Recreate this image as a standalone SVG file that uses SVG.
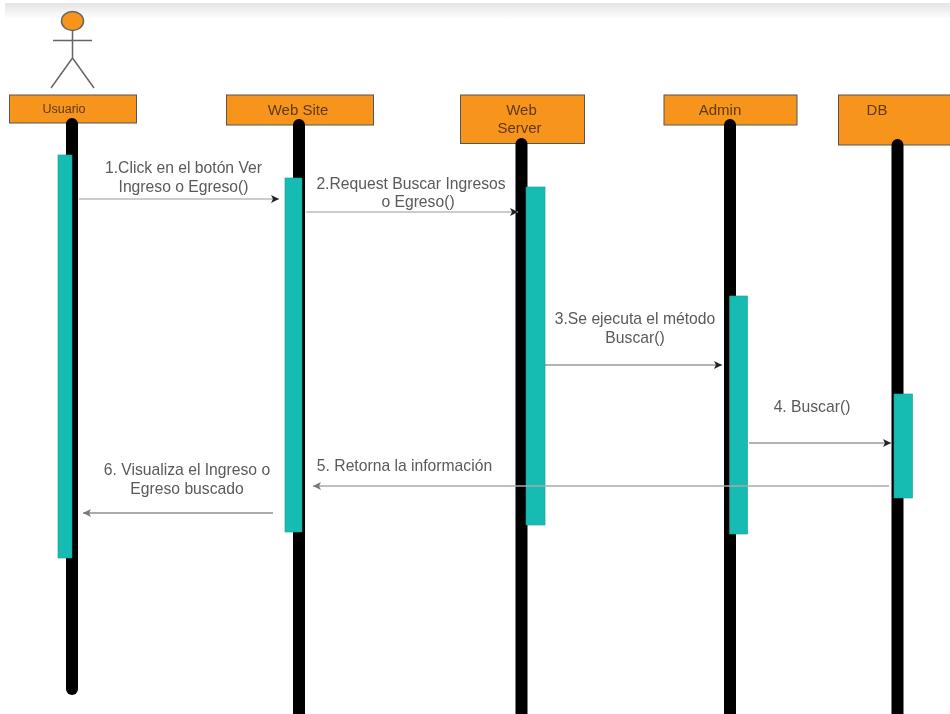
<svg xmlns="http://www.w3.org/2000/svg" width="950" height="714" viewBox="0 0 950 714">
<style>
.h{fill:#f7941d;stroke:#555;stroke-width:1}
.l{stroke:#000;stroke-width:12;stroke-linecap:round;fill:none}
.b{fill:#14bcb2;stroke:#0f9f96;stroke-width:.6}
text{font-family:"Liberation Sans",Arial,sans-serif;font-size:15.7px;fill:#5a5a5a;text-anchor:middle}
text.n{fill:#5e3a10;font-size:15px}
text.u{font-size:12.500px}
.m{stroke:#666;stroke-width:1;fill:none}
.p{stroke:#bbb;stroke-width:1.400;fill:none}
.g{stroke:#8e8e8e;stroke-width:1.500;fill:none}
.f{stroke:#aaa;stroke-width:1.500;fill:none}
</style>
<defs>
<filter id="soft" x="0" y="0" width="100%" height="100%"><feGaussianBlur stdDeviation="0.5"/></filter>
<linearGradient id="top" x1="0" y1="0" x2="0" y2="1"><stop offset="0" stop-color="#e4e4e4"/><stop offset="1" stop-color="#fff"/></linearGradient>
<marker id="a" markerWidth="10" markerHeight="8" refX="8" refY="4" orient="auto" markerUnits="userSpaceOnUse"><path d="M0 0L8 4L0 8L2 4Z" fill="#222"/></marker>
<marker id="r" markerWidth="10" markerHeight="8" refX="8" refY="4" orient="auto" markerUnits="userSpaceOnUse"><path d="M0 0L8 4L0 8L2 4Z" fill="#777"/></marker>
</defs>
<rect width="950" height="714" fill="#fff"/>
<g filter="url(#soft)">
<rect x="5" y="3" width="945" height="16" fill="url(#top)"/>
<g id="actor" stroke="#666" stroke-width="1.500" fill="none">
<ellipse cx="72.500" cy="21" rx="11" ry="9.500" fill="#f7941d"/>
<path d="M72.500 31V58M53 40.500H92M72.500 58L51 88M72.500 58L94 88"/>
</g>
<g id="usuario"><rect class="h" x="9.500" y="95" width="127" height="28"/><text class="n u" x="64" y="113">Usuario</text><line class="l" x1="72" y1="124" x2="72" y2="689"/><rect class="b" x="58" y="155" width="14" height="403"/></g>
<g id="website"><rect class="h" x="226.500" y="95" width="147" height="30"/><text class="n" x="298" y="115">Web Site</text><line class="l" x1="299" y1="125" x2="299" y2="720"/><rect class="b" x="285" y="178" width="17" height="354"/></g>
<g id="webserver"><rect class="h" x="460.500" y="95" width="124" height="48.500"/><text class="n" x="521.500" y="115">Web</text><text class="n" x="519.500" y="133">Server</text><line class="l" x1="521.500" y1="144" x2="521.500" y2="720"/><rect class="b" x="526" y="187" width="19" height="338"/></g>
<g id="admin"><rect class="h" x="664" y="95" width="133" height="30"/><text class="n" x="720" y="115">Admin</text><line class="l" x1="730" y1="125" x2="730" y2="720"/><rect class="b" x="729.500" y="296" width="18" height="238"/></g>
<g id="db"><rect class="h" x="838.500" y="95" width="115" height="50"/><text class="n" x="877" y="115">DB</text><line class="l" x1="897.500" y1="145" x2="897.500" y2="720"/><rect class="b" x="894" y="394" width="18.500" height="104"/></g>
<g id="connectors">
<line class="p" x1="79" y1="199" x2="279" y2="199" marker-end="url(#a)"/>
<line class="p" x1="306" y1="212" x2="518" y2="212" marker-end="url(#a)"/>
<line class="m" x1="545" y1="365" x2="722" y2="365" marker-end="url(#a)"/>
<line class="m" x1="749" y1="443" x2="891" y2="443" marker-end="url(#a)"/>
<line class="f" x1="889" y1="486" x2="313" y2="486" marker-end="url(#r)"/>
<line class="g" x1="273" y1="513" x2="83" y2="513" marker-end="url(#r)"/>
</g>
<g id="labels">
<text x="183.500" y="173">1.Click en el botón Ver</text><text x="183.500" y="192">Ingreso o Egreso()</text>
<text x="411" y="189">2.Request Buscar Ingresos</text><text x="418" y="207">o Egreso()</text>
<text x="635" y="324">3.Se ejecuta el método</text><text x="635" y="343">Buscar()</text>
<text x="812" y="412">4. Buscar()</text>
<text x="404.500" y="471">5. Retorna la información</text>
<text x="187" y="475">6. Visualiza el Ingreso o</text><text x="187" y="494">Egreso buscado</text>
</g>
</g>
</svg>
